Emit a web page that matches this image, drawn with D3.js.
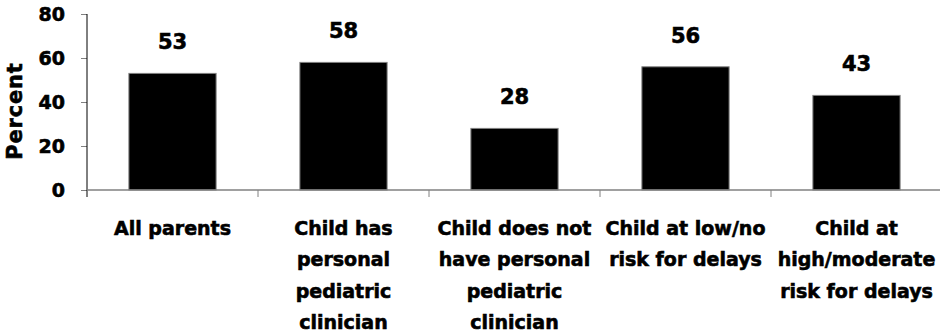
<!DOCTYPE html>
<html>
<head>
<meta charset="utf-8">
<script src="https://cdn.jsdelivr.net/npm/d3@7"></script>
<style>
  html, body { margin: 0; padding: 0; background: #fff; }
  svg text { font-family: "DejaVu Sans", Verdana, sans-serif; font-weight: bold; fill: #000; stroke: #000; stroke-width: 0.6px; }
</style>
</head>
<body>
<svg id="chart" width="940" height="335"></svg>
<script>
const categories = ["All parents", "Child has personal pediatric clinician", "Child does not have personal pediatric clinician", "Child at low/no risk for delays", "Child at high/moderate risk for delays"];
const categoryLines = [
  ["All parents"],
  ["Child has", "personal", "pediatric", "clinician"],
  ["Child does not", "have personal", "pediatric", "clinician"],
  ["Child at low/no", "risk for delays"],
  ["Child at", "high/moderate", "risk for delays"]
];
const values = [53, 58, 28, 56, 43];
const yTicks = [0, 20, 40, 60, 80];
const yLabel = "Percent";

(function () {
const svg = d3.select("#chart");
const mLeft = 87, mRight = 942, mTop = 14, mBottom = 190;

const y = d3.scaleLinear().domain([0, 80]).range([mBottom, mTop]);
const xSlots = d3.scaleBand().domain(categories).range([mLeft, mRight]).padding(0);
const xBars = d3.scaleBand().domain(categories).range([mLeft, mRight]).paddingInner(0.49).paddingOuter(0.245);

// bars
svg.append("g").selectAll("rect").data(values).join("rect")
  .attr("x", (d, i) => xBars(categories[i]))
  .attr("y", d => y(d))
  .attr("width", xBars.bandwidth())
  .attr("height", d => y(0) - y(d))
  .attr("fill", "#000")
  .attr("stroke", "#808080")
  .attr("stroke-width", 1);

// value labels
svg.append("g").selectAll("text").data(values).join("text")
  .attr("x", (d, i) => xBars(categories[i]) + xBars.bandwidth() / 2)
  .attr("y", d => y(d) - 24)
  .attr("text-anchor", "middle")
  .style("font-size", "21px")
  .text(d => d);

// y axis
const yAxis = d3.axisLeft(y).tickValues(yTicks).tickSize(6).tickPadding(16);
const gy = svg.append("g").attr("transform", `translate(${mLeft},0)`).call(yAxis);
gy.select(".domain").remove();
gy.selectAll(".tick line").attr("stroke", "#808080");
gy.selectAll(".tick text").style("font-size", "19px").style("font-family", "DejaVu Sans").style("font-weight", "bold").attr("fill", "#000");
svg.append("line").attr("x1", mLeft).attr("x2", mLeft).attr("y1", y(80)).attr("y2", y(0) + 7).attr("stroke", "#000").attr("stroke-width", 1);

// x axis line and category boundary ticks
svg.append("line").attr("x1", mLeft).attr("x2", 940).attr("y1", y(0)).attr("y2", y(0)).attr("stroke", "#808080").attr("stroke-width", 1.5);
svg.append("g").selectAll("line").data(categories.slice(1)).join("line")
  .attr("x1", d => xSlots(d)).attr("x2", d => xSlots(d))
  .attr("y1", y(0)).attr("y2", y(0) + 7)
  .attr("stroke", "#808080");

// category labels
const gl = svg.append("g");
categoryLines.forEach((lines, i) => {
  const cx = xSlots(categories[i]) + xSlots.bandwidth() / 2;
  const t = gl.append("text").attr("text-anchor", "middle").style("font-size", "19px");
  lines.forEach((ln, j) => {
    t.append("tspan").attr("x", cx).attr("y", 235 + j * 31.3).text(ln);
  });
});

// y label
svg.append("text")
  .attr("transform", `translate(22,111) rotate(-90)`)
  .attr("text-anchor", "middle")
  .style("font-size", "21px")
  .style("letter-spacing", "0.8px")
  .text(yLabel);
})();
</script>
</body>
</html>
